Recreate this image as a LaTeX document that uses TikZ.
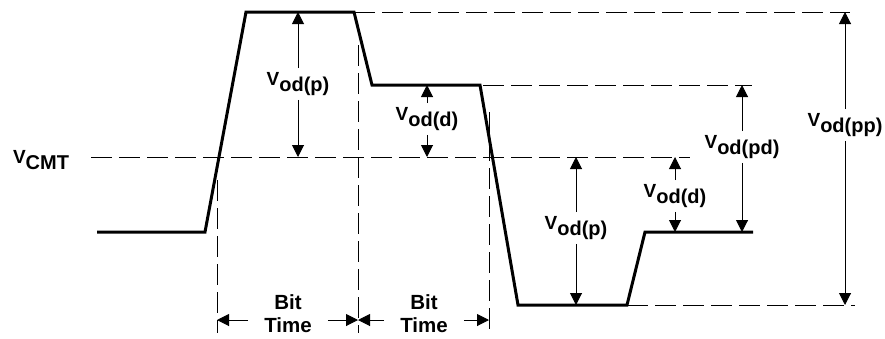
\documentclass[tikz,border=0pt]{standalone}
\usepackage{fontspec}
\setmainfont{Liberation Sans}
\usetikzlibrary{arrows.meta}
\newcommand{\vlev}[1]{{\fontsize{19}{20}\selectfont V}\raisebox{-6pt}{\fontsize{20}{20}\selectfont #1}}

\tikzset{
  wave/.style={line width=3pt,line join=miter},
  guide/.style={line width=1pt,dash pattern=on 21pt off 7pt},
  dim/.style={line width=1pt,-{Triangle[length=12pt,width=12pt]}},
  lab/.style={font=\bfseries,inner sep=4pt},
  bitlab/.style={font=\bfseries\fontsize{20.5}{23}\selectfont,align=center,inner xsep=16pt,inner ysep=0pt},
}

\begin{document}
\begin{tikzpicture}[x=1pt,y=-1pt]
\useasboundingbox (0,0) rectangle (885,338);

% corners of the waveform
\coordinate (w0) at (97,232);
\coordinate (w1) at (205,232);
\coordinate (w2) at (246,12);
\coordinate (w3) at (354,12);
\coordinate (w4) at (372,85);
\coordinate (w5) at (480,85);
\coordinate (w6) at (518,305);
\coordinate (w7) at (627,305);
\coordinate (w8) at (645,232);
\coordinate (w9) at (753,232);
\coordinate (cmt) at (91,157);

% dashed levels
\draw [guide] (cmt) -- (690,157);
\draw [guide] (w3) -- (850,12);
\draw [guide] (483,85) -- (752,85);
\draw [guide] (w7) -- (855,305);
% dashed bit edges
\draw [guide] (217,180) -- (217,333);
\draw [guide] (358,45) -- (358,333);
\draw [guide] (489,112) -- (489,333);

\draw [wave] (w0) -- (w1) -- (w2) -- (w3) -- (w4) -- (w5) -- (w6) -- (w7) -- (w8) -- (w9);

\node [lab] (vcmt) at (41,160) {\vlev{CMT}};

% levels against V_CMT
\node [lab] (vp1) at (298,84) {\vlev{od(p)}};
\draw [dim] (vp1.north) -- (vp1.north |- w3);
\draw [dim] (vp1.south) -- (vp1.south |- cmt);

\node [lab] (vd1) at (427,119) {\vlev{od(d)}};
\draw [dim] (vd1.north) -- (vd1.north |- w5);
\draw [dim] (vd1.south) -- (vd1.south |- cmt);

\node [lab] (vp2) at (576,228) {\vlev{od(p)}};
\draw [dim] (vp2.north) -- (vp2.north |- cmt);
\draw [dim] (vp2.south) -- (vp2.south |- w7);

\node [lab] (vd2) at (675,196) {\vlev{od(d)}};
\draw [dim] (vd2.north) -- (vd2.north |- cmt);
\draw [dim] (vd2.south) -- (vd2.south |- w9);

\node [lab] (vpd) at (742,147) {\vlev{od(pd)}};
\draw [dim] (vpd.north) -- (vpd.north |- w5);
\draw [dim] (vpd.south) -- (vpd.south |- w9);

\node [lab] (vpp) at (845,125) {\vlev{od(pp)}};
\draw [dim] (vpp.north) -- (vpp.north |- w3);
\draw [dim] (vpp.south) -- (vpp.south |- w7);

% bit times
\coordinate (e1) at (217,320);
\coordinate (e2) at (358,320);
\coordinate (e3) at (489,320);
\node [bitlab] (bt1) at (288,314) {Bit\\Time};
\draw [dim] (bt1.west |- e1) -- (e1);
\draw [dim] (bt1.east |- e1) -- (e2);
\node [bitlab] (bt2) at (424,314) {Bit\\Time};
\draw [dim] (bt2.west |- e1) -- (e2);
\draw [dim] (bt2.east |- e1) -- (e3);
\end{tikzpicture}
\end{document}
